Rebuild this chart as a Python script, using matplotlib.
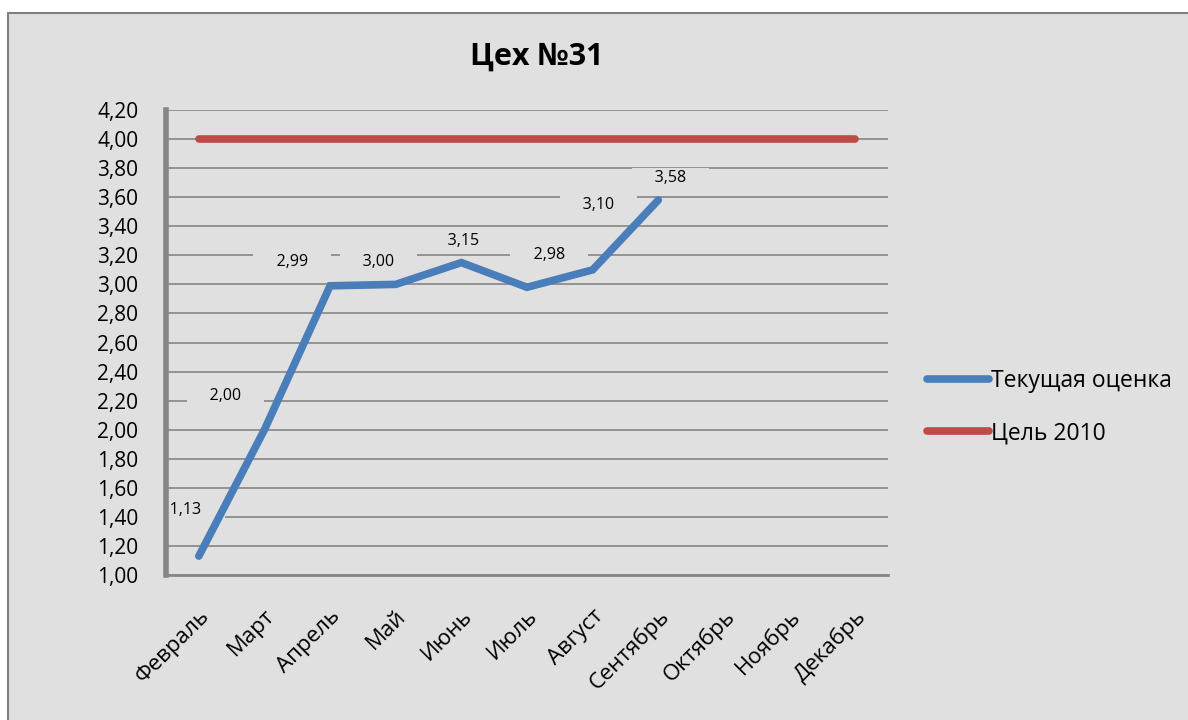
import matplotlib.pyplot as plt
import matplotlib.patches as mpatches
import numpy as np

plt.rcParams['font.family'] = ['Open Sans', 'DejaVu Sans']

# данные
months = ['Февраль', 'Март', 'Апрель', 'Май', 'Июнь', 'Июль', 'Август',
          'Сентябрь', 'Октябрь', 'Ноябрь', 'Декабрь']
current = [1.13, 2.00, 2.99, 3.00, 3.15, 2.98, 3.10, 3.58]
target = [4.00] * len(months)
title = 'Цех №31'
series_names = ['Текущая оценка', 'Цель 2010']

# смещения подписей данных (в пикселях), как в исходной диаграмме
label_offsets = [(-13, 46), (-39, 34), (-38, 24), (-17, 22),
                 (2, 22), (22, 32), (6, 65), (12, 22)]

bg = '#e0e0e0'
blue = '#4a7ebb'
red = '#be4b48'
grid_c = '#8c8c8c'

fig = plt.figure(figsize=(11.88, 7.2), dpi=100)
fig.patch.set_facecolor('white')
# рамка области диаграммы
frame = mpatches.Rectangle((8 / 1188, -0.05), 1.1, 1.05 - 13 / 720,
                           transform=fig.transFigure, facecolor=bg,
                           edgecolor='#7f7f7f', linewidth=1.5, zorder=-5)
fig.patches.append(frame)

ax = fig.add_axes([166 / 1188, 145 / 720, 722 / 1188, 465 / 720])
ax.set_facecolor(bg)

x = np.arange(len(months))
ax.plot(x[:len(current)], current, color=blue, lw=5.5, solid_capstyle='round',
        solid_joinstyle='miter', label=series_names[0], zorder=3)
ax.plot(x, target, color=red, lw=5.5, solid_capstyle='round',
        label=series_names[1], zorder=3)

for xi, v, off in zip(x, current, label_offsets):
    ax.annotate('     ' + f'{v:.2f}'.replace('.', ',') + '     ',
                xy=(xi, v), xytext=off, textcoords='offset pixels',
                ha='center', va='center', fontsize=11.5,
                bbox=dict(boxstyle='square,pad=0.15', fc=bg, ec='none'),
                zorder=2)

ax.set_xlim(-0.5, len(months) - 0.5)
ax.set_ylim(1.0, 4.2)
yt = np.arange(1.0, 4.21, 0.2)
ax.set_yticks(yt)
ax.set_yticklabels([f'{t:.2f}'.replace('.', ',') for t in yt], fontsize=15)
ax.set_xticks(x)
ax.set_xticklabels(months, fontsize=16, rotation=45, ha='right',
                   rotation_mode='anchor')
ax.tick_params(axis='y', length=0, pad=20)
ax.tick_params(axis='x', length=0, pad=22)

ax.grid(axis='y', color=grid_c, lw=1.3, zorder=1)
ax.set_axisbelow(True)
for s in ['top', 'right']:
    ax.spines[s].set_visible(False)
ax.spines['left'].set_color('#868686')
ax.spines['left'].set_linewidth(4)
ax.spines['bottom'].set_color('#868686')
ax.spines['bottom'].set_linewidth(2)

fig.text(537 / 1188, 1 - 57 / 720, title, ha='center', va='center',
         fontsize=22, fontweight='bold')

leg = fig.legend(loc='center left', bbox_to_anchor=(906 / 1188, 1 - 407 / 720),
                 frameon=False, fontsize=16.5, handlelength=2.7,
                 handletextpad=0.1, labelspacing=1.25)

fig.savefig('out.png', dpi=100, facecolor=fig.get_facecolor())
